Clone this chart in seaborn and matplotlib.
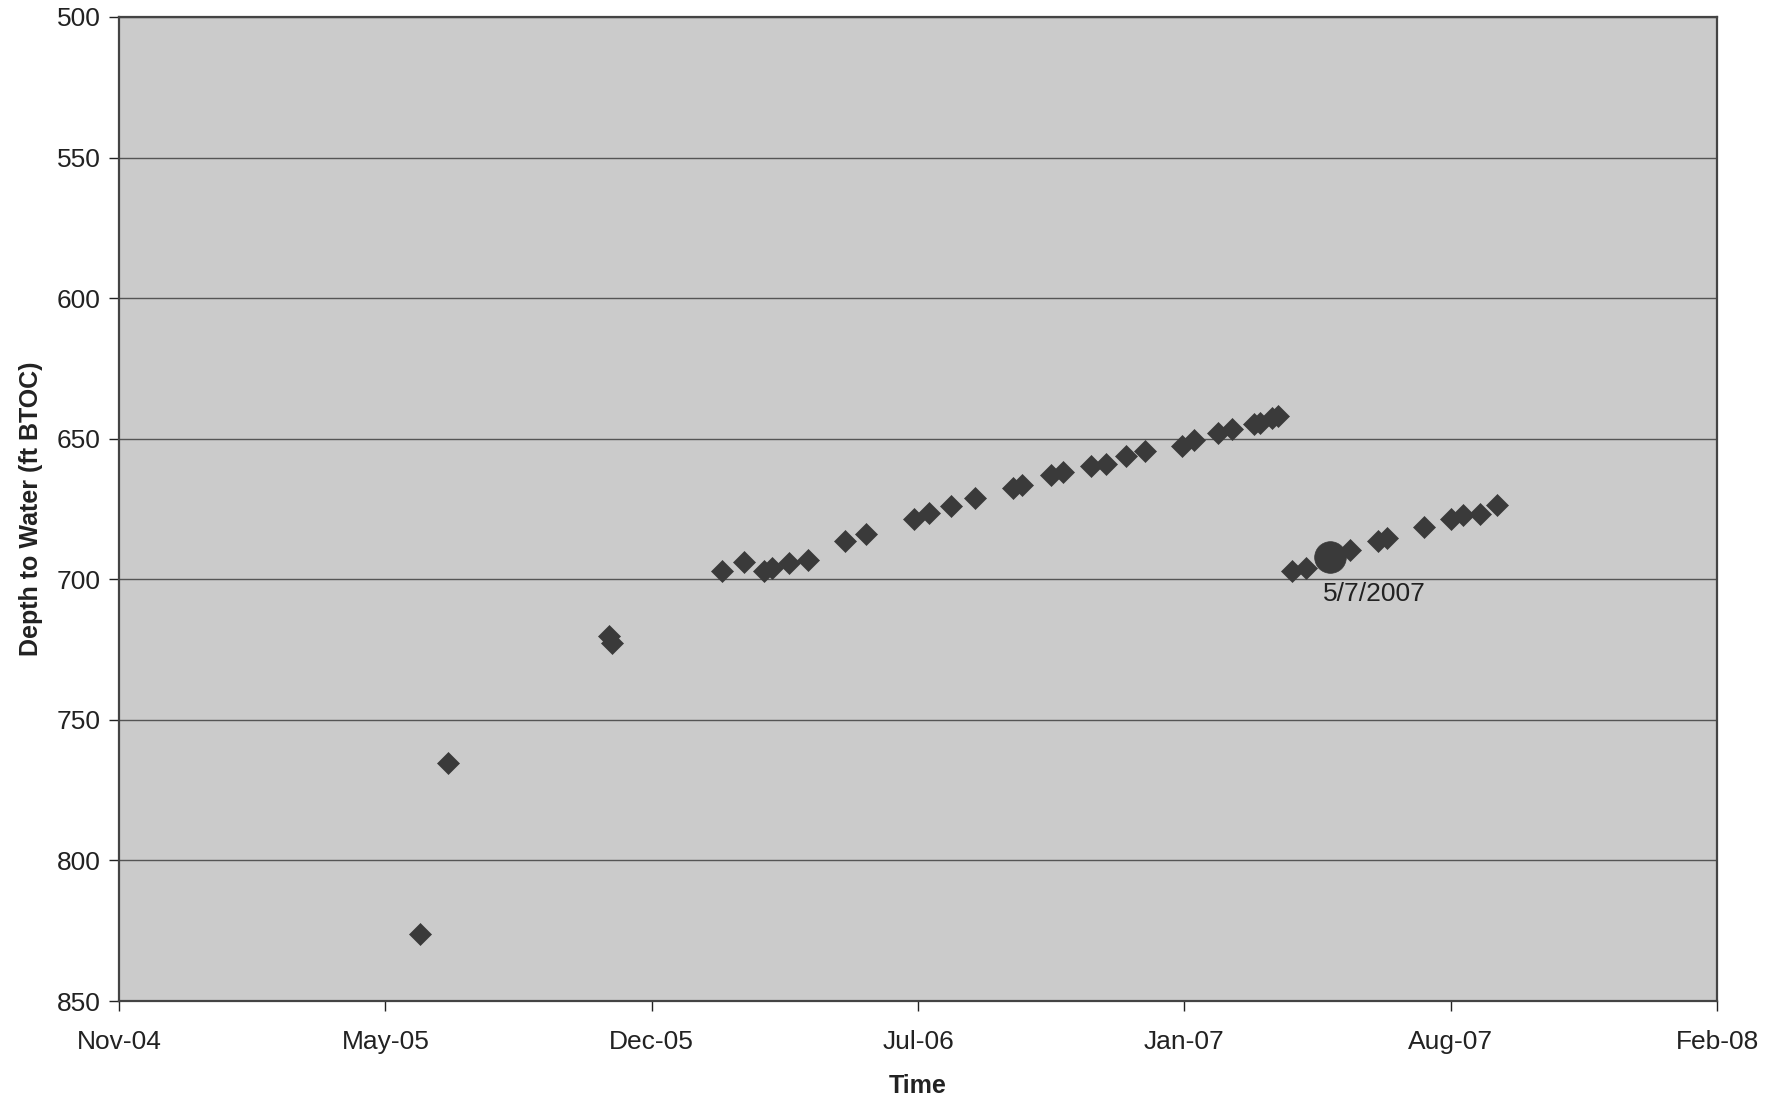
import matplotlib
matplotlib.use("Agg")
import matplotlib.pyplot as plt
import matplotlib.dates as mdates
import numpy as np
import pandas as pd
import seaborn as sns

# ---- data ----
dates = [
    "2005-06-23", "2005-07-14", "2005-11-12", "2005-11-14",
    "2006-02-05", "2006-02-21", "2006-03-08", "2006-03-14", "2006-03-27",
    "2006-04-10", "2006-05-08", "2006-05-24", "2006-06-29", "2006-07-10",
    "2006-07-27", "2006-08-14", "2006-09-11", "2006-09-18", "2006-10-10",
    "2006-10-19", "2006-11-09", "2006-11-20", "2006-12-05", "2006-12-19",
    "2007-01-16", "2007-01-25", "2007-02-12", "2007-02-23", "2007-03-11",
    "2007-03-16", "2007-03-25", "2007-03-29",
    "2007-04-09", "2007-04-19", "2007-05-22", "2007-06-12", "2007-06-19",
    "2007-07-17", "2007-08-06", "2007-08-15", "2007-08-28", "2007-09-10",
]
depth = [
    826.0, 765.5, 720.0, 722.5,
    697.0, 694.0, 697.0, 696.0, 694.3,
    693.0, 686.5, 684.0, 678.5, 676.3,
    674.0, 671.2, 667.4, 666.4, 662.8,
    661.9, 659.8, 659.1, 656.3, 654.5,
    652.5, 650.5, 647.9, 646.4, 644.6,
    644.3, 642.6, 641.8,
    697.1, 696.0, 689.7, 686.5, 685.4,
    681.4, 678.5, 677.3, 676.7, 673.7,
]
highlight_dates = ["2007-05-07"]
highlight_depth = [692.0]
highlight_label = "5/7/2007"

x_start = "2004-11-09"
x_tick_step_days = 200
n_x_ticks = 7
y_ticks = [500, 550, 600, 650, 700, 750, 800, 850]

df = pd.DataFrame({"date": pd.to_datetime(dates), "depth": depth})
hl = pd.DataFrame({"date": pd.to_datetime(highlight_dates), "depth": highlight_depth})

sns.set_theme(style="white")
plt.rcParams["font.family"] = ["Liberation Sans", "DejaVu Sans"]

fig = plt.figure(figsize=(17.81, 11.01), dpi=100)
ax = fig.add_axes([0.0668, 0.0908, 0.8974, 0.8938])
ax.set_facecolor("#cbcbcb")

sns.scatterplot(data=df, x="date", y="depth", marker="D", s=125,
                color="#3a3a3a", edgecolor="#3a3a3a", linewidth=0.5,
                ax=ax, zorder=3, legend=False)
sns.scatterplot(data=hl, x="date", y="depth", marker="o", s=520,
                color="#3a3a3a", edgecolor="#3a3a3a", linewidth=0.5,
                ax=ax, zorder=4, legend=False)

for d, v in zip(hl["date"], hl["depth"]):
    ax.annotate(highlight_label, xy=(d, v), xytext=(-5, -18),
                textcoords="offset points", ha="left", va="top",
                fontsize=19, color="#222222")

xticks = pd.date_range(x_start, periods=n_x_ticks, freq=f"{x_tick_step_days}D")
ax.set_xlim(xticks[0], xticks[-1])
ax.set_xticks(xticks)
ax.xaxis.set_major_formatter(mdates.DateFormatter("%b-%y"))

ax.set_ylim(850, 500)
ax.set_yticks(y_ticks)

ax.grid(axis="y", color="#555555", linewidth=1.0)
ax.grid(axis="x", visible=False)
ax.set_axisbelow(True)

for sp in ax.spines.values():
    sp.set_color("#444444")
    sp.set_linewidth(1.6)

ax.tick_params(axis="both", labelsize=19, colors="#222222", direction="out",
               length=7, width=1.0, left=True, bottom=True)
ax.tick_params(axis="x", pad=14)
ax.tick_params(axis="y", pad=6)

ax.set_xlabel("Time", fontsize=18, fontweight="bold", labelpad=14, color="#222222")
ax.set_ylabel("Depth to Water (ft BTOC)", fontsize=18, fontweight="bold",
              labelpad=10, color="#222222")

fig.savefig("out.png", dpi=100, facecolor="white")
